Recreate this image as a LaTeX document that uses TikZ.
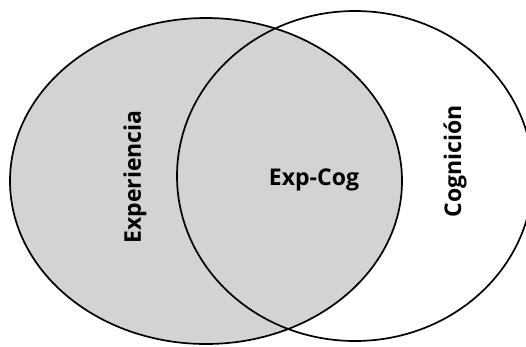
\documentclass[tikz,border=0pt]{standalone}
\usepackage{fontspec}
\setmainfont{Open Sans}
\definecolor{expgray}{RGB}{209,211,212}
\tikzset{
	label text/.style={font=\bfseries\fontsize{23}{27}\selectfont, inner sep=0pt},
}
\begin{document}
	\begin{tikzpicture}[x=1pt,y=-1pt,line width=1.7pt]
		\useasboundingbox (0,0) rectangle (526,346);
		\filldraw[fill=expgray] (206,181) ellipse (196 and 163);
		\draw (355,176) ellipse (178 and 165);
		\node[label text, rotate=90] (exp) at (135,177) {Experiencia};
		\node[label text] (expcog) at (314,180) {Exp-Cog};
		\node[label text, rotate=90] (cog) at (455,161) {Cognición};
	\end{tikzpicture}
\end{document}
